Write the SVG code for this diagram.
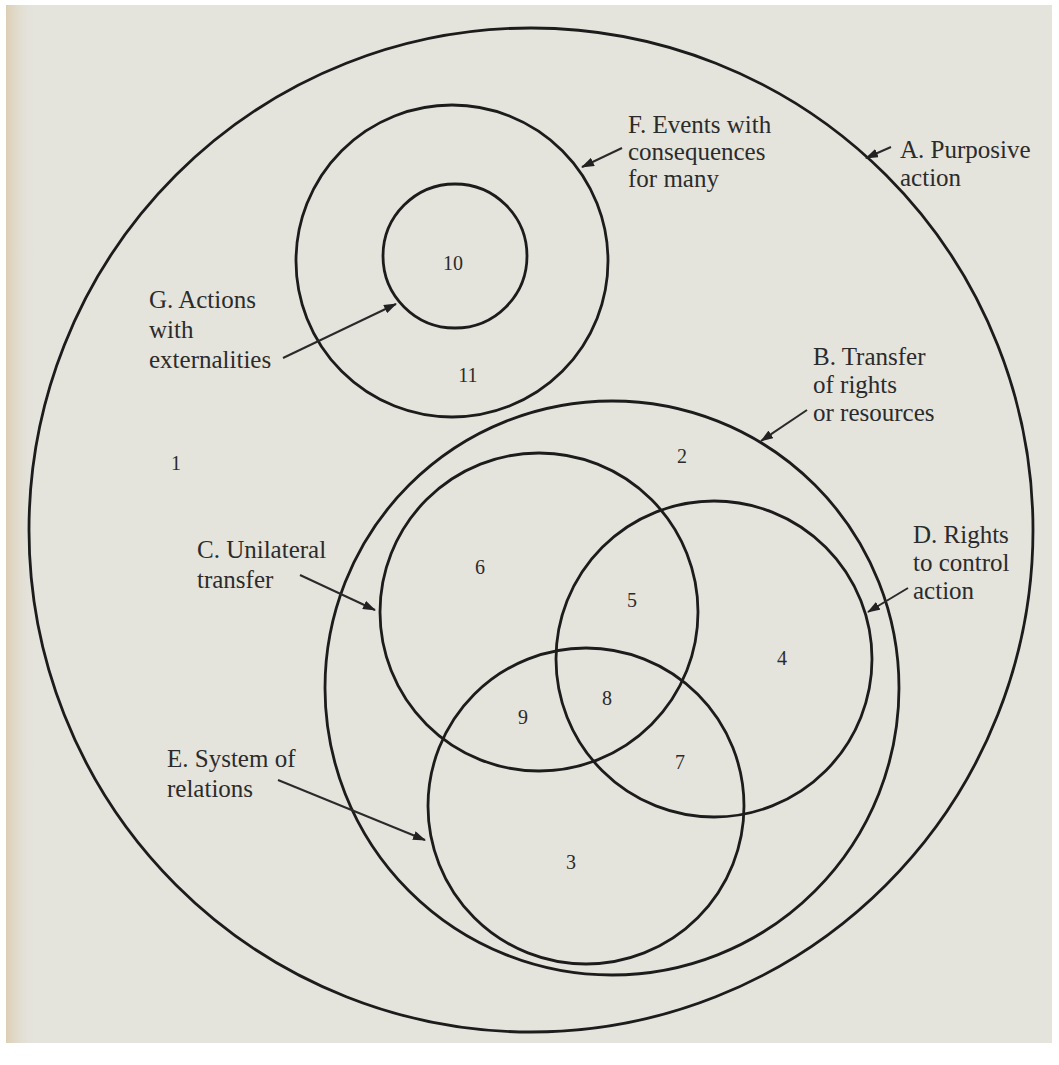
<svg xmlns="http://www.w3.org/2000/svg" width="1059" height="1065" viewBox="0 0 1059 1065">
<defs>
<linearGradient id="leftEdge" x1="0" y1="0" x2="1" y2="0">
<stop offset="0" stop-color="#dccfb4"/>
<stop offset="1" stop-color="#e4e3dc" stop-opacity="0"/>
</linearGradient>
<marker id="ah" viewBox="0 0 13 9" refX="12" refY="4.5" markerWidth="13" markerHeight="9" markerUnits="userSpaceOnUse" orient="auto">
<path d="M0,0 L13,4.5 L0,9 z" fill="#222"/>
</marker>
<style>
.ring{fill:none;stroke:#1c1c1c;stroke-width:2.8}
.arrow{stroke:#2a2a2a;stroke-width:2;fill:none;marker-end:url(#ah)}
.lbl{font-family:"Liberation Serif","Times New Roman",serif;font-size:25px;fill:#2b2b2b}
.num{font-family:"Liberation Serif","Times New Roman",serif;font-size:20px;fill:#2b2b2b;text-anchor:middle}
</style>
</defs>
<rect x="0" y="0" width="1059" height="1065" fill="#ffffff"/>
<rect x="6" y="5" width="1046" height="1038" fill="#e4e3dc"/>
<rect x="6" y="5" width="30" height="1038" fill="url(#leftEdge)"/>

<g id="A">
<circle class="ring" cx="531" cy="530" r="502"/>
<text class="lbl" x="900" y="158"><tspan x="900">A.  Purposive</tspan><tspan x="900" dy="28">action</tspan></text>
<text class="num" x="176" y="470">1</text>
</g>
<g id="F">
<circle class="ring" cx="452" cy="261" r="156"/>
<text class="lbl" x="628" y="133"><tspan x="628">F.  Events with</tspan><tspan x="628" dy="27">consequences</tspan><tspan x="628" dy="27">for many</tspan></text>
<text class="num" x="468" y="382">11</text>
</g>
<g id="G">
<circle class="ring" cx="455" cy="256" r="72"/>
<text class="lbl" x="149" y="308"><tspan x="149">G.  Actions</tspan><tspan x="149" dy="30">with</tspan><tspan x="149" dy="30">externalities</tspan></text>
<text class="num" x="453" y="270">10</text>
</g>
<g id="B">
<circle class="ring" cx="612" cy="688" r="287"/>
<text class="lbl" x="813" y="365"><tspan x="813">B.  Transfer</tspan><tspan x="813" dy="28">of rights</tspan><tspan x="813" dy="28">or resources</tspan></text>
<text class="num" x="682" y="463">2</text>
</g>
<g id="C">
<circle class="ring" cx="539" cy="612" r="159"/>
<text class="lbl" x="197" y="558"><tspan x="197">C.  Unilateral</tspan><tspan x="197" dy="30">transfer</tspan></text>
<text class="num" x="480" y="574">6</text>
</g>
<g id="D">
<circle class="ring" cx="714" cy="659" r="158"/>
<text class="lbl" x="913" y="543"><tspan x="913">D.  Rights</tspan><tspan x="913" dy="28">to control</tspan><tspan x="913" dy="28">action</tspan></text>
<text class="num" x="632" y="607">5</text>
<text class="num" x="782" y="665">4</text>
</g>
<g id="E">
<circle class="ring" cx="586" cy="806" r="158"/>
<text class="lbl" x="167" y="767"><tspan x="167">E.  System of</tspan><tspan x="167" dy="30">relations</tspan></text>
<text class="num" x="571" y="869">3</text>
</g>
<g id="regions">
<text class="num" x="607" y="705">8</text>
<text class="num" x="523" y="724">9</text>
<text class="num" x="680" y="769">7</text>
</g>

<g id="connectors">
<line class="arrow" x1="891" y1="147" x2="866" y2="158"/>
<line class="arrow" x1="622" y1="148" x2="582" y2="167"/>
<line class="arrow" x1="283" y1="358" x2="396" y2="304"/>
<line class="arrow" x1="807" y1="410" x2="761" y2="441"/>
<line class="arrow" x1="300" y1="575" x2="375" y2="610"/>
<line class="arrow" x1="908" y1="588" x2="868" y2="612"/>
<line class="arrow" x1="278" y1="780" x2="425" y2="840"/>
</g>
</svg>
